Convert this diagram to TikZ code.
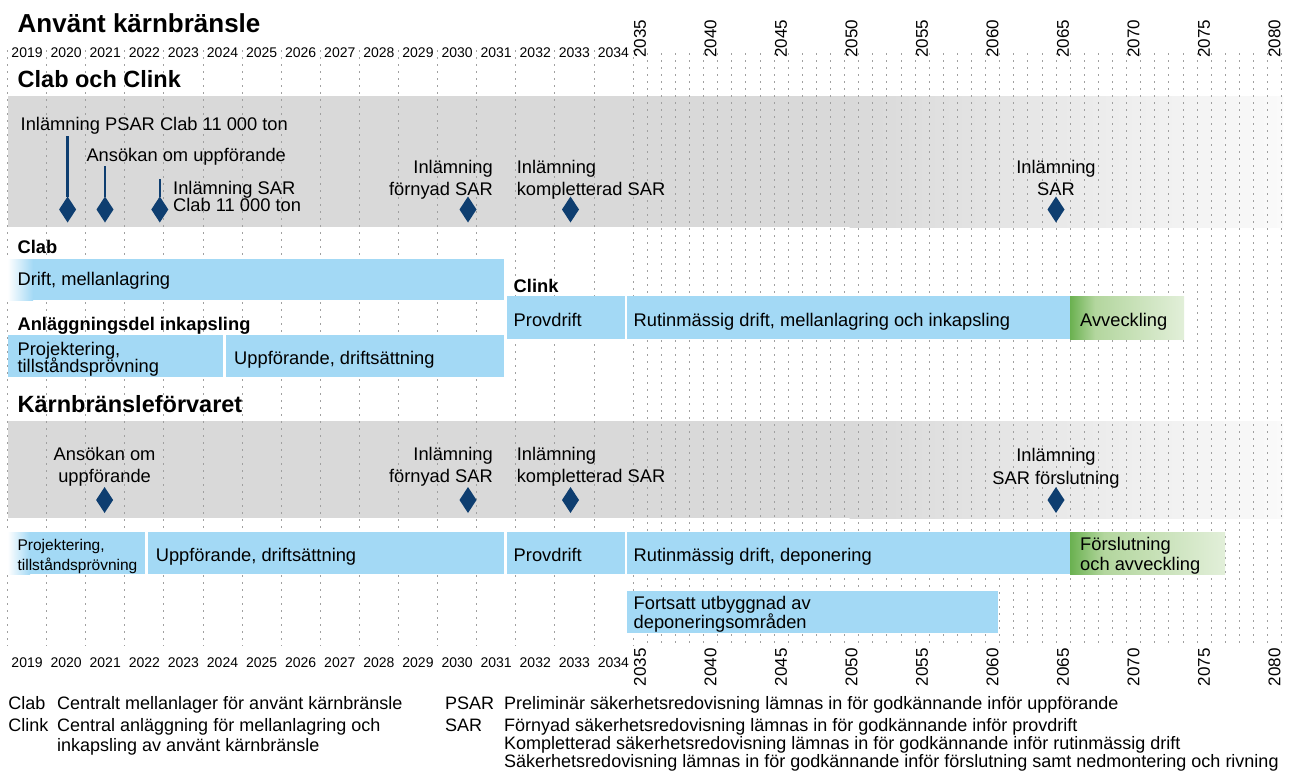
\documentclass[tikz,border=0pt]{standalone}
\usepackage{fontspec}
\setmainfont{Liberation Sans}
\usetikzlibrary{shapes.geometric}
\definecolor{bandgray}{HTML}{D9D9D9}
\definecolor{bandend}{HTML}{FAFAFA}
\definecolor{barblue}{HTML}{A3D9F5}
\definecolor{msblue}{HTML}{0E3E70}
\definecolor{gdark}{HTML}{6AB150}
\definecolor{gmid}{HTML}{B3D69E}
\definecolor{glight}{HTML}{E2EFD9}
\definecolor{gridgray}{HTML}{A0A0A0}
\pgfdeclarehorizontalshading{greenfade}{100bp}{color(0bp)=(gdark); color(25bp)=(gdark); color(36bp)=(gmid); color(75bp)=(glight); color(100bp)=(glight)}
\begin{document}
\begin{tikzpicture}[x=1pt,y=-1pt,
  lbl/.style={inner sep=0pt, anchor=base west, font=\fontsize{18.3}{20}\selectfont},
  lble/.style={lbl, anchor=base east},
  lblc/.style={lbl, anchor=base},
  small/.style={lbl, font=\fontsize{15.5}{17}\selectfont},
  leg/.style={lbl, font=\fontsize{18}{20}\selectfont},
  head/.style={inner sep=0pt, anchor=base west, font=\fontsize{23.5}{26}\selectfont\bfseries},
  title/.style={head, font=\fontsize{26}{28}\selectfont\bfseries},
  sub/.style={inner sep=0pt, anchor=base west, font=\fontsize{18.3}{20}\selectfont\bfseries},
  yr/.style={inner sep=0pt, anchor=base, font=\fontsize{14}{16}\selectfont},
  yrrot/.style={inner sep=0pt, rotate=90, font=\fontsize{17}{19}\selectfont},
  grid/.style={draw=gridgray, line width=0.8pt, dash pattern=on 2pt off 5pt},
  bar/.style={fill=barblue},
  ms/.style={diamond, fill=msblue, minimum width=17pt, minimum height=26pt, inner sep=0pt, outer sep=0pt},
  stem/.style={draw=msblue, line width=2.3pt}]
\useasboundingbox (0,0) rectangle (1302,774);
\fill[white] (0,0) rectangle (1302,774);
% bands
\fill[bandgray] (7.5,96) rectangle (850,227);
\shade[left color=bandgray, right color=bandend] (849.5,96) rectangle (1283,227);
\fill[bandgray] (7.5,421) rectangle (850,518);
\shade[left color=bandgray, right color=bandend] (849.5,421) rectangle (1283,518);
% grid
\foreach \k in {0,...,16} { \draw[grid] ({7.5+39.094*\k},50) -- ({7.5+39.094*\k},646); }
\foreach \j in {1,...,46} { \draw[grid] ({633+14.1*\j},53) -- ({633+14.1*\j},646); }
% year labels
\foreach \k in {0,...,15} {
  \pgfmathtruncatemacro\yy{2019+\k}
  \node[yr] (yt\k) at ({7.5+39.094*(\k+0.5)},57) {\yy};
  \node[yr] (yb\k) at ({7.5+39.094*(\k+0.5)},667) {\yy};
}
\foreach \j in {0,5,...,45} {
  \pgfmathtruncatemacro\yy{2035+\j}
  \node[yrrot, anchor=west] (rt\j) at ({633+14.1*\j+7.05},58) {\yy};
  \node[yrrot, anchor=east] (rb\j) at ({633+14.1*\j+7.05},648) {\yy};
}
% bars
\shade[left color=white, right color=barblue] (7.5,259) rectangle (33,300);
\fill[bar] (32.5,259) rectangle (504,300);
\fill[bar] (507,296) rectangle (624.5,339);
\fill[bar] (627,296) rectangle (1070,339);
\shade[shading=greenfade] (1070,296) rectangle (1184,339);
\fill[bar] (7.5,335) rectangle (223,377);
\fill[bar] (226,335) rectangle (504,377);
\shade[left color=white, right color=barblue] (7.5,532) rectangle (30,574);
\fill[bar] (29.5,532) rectangle (145,574);
\fill[bar] (148,532) rectangle (504,574);
\fill[bar] (507,532) rectangle (624.5,574);
\fill[bar] (627,532) rectangle (1070,574);
\shade[shading=greenfade] (1070,532) rectangle (1225,574);
\fill[bar] (627,591) rectangle (998,633);
% headings
\node[title] (ttl) at (17.5,32) {Använt kärnbränsle};
\node[head] (h1) at (17.5,87.5) {Clab och Clink};
\node[head] (h2) at (17.5,412.5) {Kärnbränsleförvaret};
% band 1 milestones
\node[lbl] (t1) at (20.5,130.7) {Inlämning PSAR Clab 11 000 ton};
\node[lbl] (t2) at (86.3,161.7) {Ansökan om uppförande};
\node[lbl] (t3a) at (173,194) {Inlämning SAR};
\node[lbl] (t3b) at (173,211.7) {Clab 11 000 ton};
\node[lble] (t4a) at (493,173.3) {Inlämning};
\node[lble] (t4b) at (493,195) {förnyad SAR};
\node[lbl] (t5a) at (516.6,173.3) {Inlämning};
\node[lbl] (t5b) at (516.6,195) {kompletterad SAR};
\node[lblc] (t6a) at (1056,173.3) {Inlämning};
\node[lblc] (t6b) at (1056,195) {SAR};
\coordinate (s1) at (67.6,136);
\coordinate (s2) at (105,166);
\coordinate (s3) at (159.8,179.3);
\node[ms] (d1) at (67.6,209.5) {};
\node[ms] (d2) at (105,209.5) {};
\node[ms] (d3) at (159.8,209.5) {};
\node[ms] (d4) at (468,209.5) {};
\node[ms] (d5) at (570.5,209.5) {};
\node[ms] (d6) at (1056,209.5) {};
\draw[stem] (s1) -- (d1.north);
\draw[stem] (s2) -- (d2.north);
\draw[stem] (s3) -- (d3.north);
% band 2 milestones
\node[lblc] (u1a) at (104.6,460) {Ansökan om};
\node[lblc] (u1b) at (104.6,482.5) {uppförande};
\node[lble] (u2a) at (493,460) {Inlämning};
\node[lble] (u2b) at (493,482.5) {förnyad SAR};
\node[lbl] (u3a) at (516.6,460) {Inlämning};
\node[lbl] (u3b) at (516.6,482.5) {kompletterad SAR};
\node[lblc] (u4a) at (1056,461.5) {Inlämning};
\node[lblc] (u4b) at (1056,484) {SAR förslutning};
\node[ms] (e1) at (104.6,500) {};
\node[ms] (e2) at (468,500) {};
\node[ms] (e3) at (570.5,500) {};
\node[ms] (e4) at (1056,500) {};
% bar labels
\node[sub] (lclab) at (17.5,253.3) {Clab};
\node[lbl] (b1) at (17.4,285) {Drift, mellanlagring};
\node[sub] (lclink) at (513.5,292.7) {Clink};
\node[lbl] (b2) at (513.5,326) {Provdrift};
\node[lbl] (b3) at (633.5,326) {Rutinmässig drift, mellanlagring och inkapsling};
\node[lbl] (b4) at (1080,326) {Avveckling};
\node[sub] (lank) at (17.4,330) {Anläggningsdel inkapsling};
\node[lbl] (b5a) at (17.4,355.5) {Projektering,};
\node[lbl] (b5b) at (17.4,372) {tillståndsprövning};
\node[lbl] (b6) at (234,364) {Uppförande, driftsättning};
\node[small] (c1a) at (17.4,550) {Projektering,};
\node[small] (c1b) at (17.4,570.5) {tillståndsprövning};
\node[lbl] (c2) at (155.6,561.7) {Uppförande, driftsättning};
\node[lbl] (c3) at (513.5,561.7) {Provdrift};
\node[lbl] (c4) at (633.5,561.7) {Rutinmässig drift, deponering};
\node[lbl] (c5a) at (1080,550) {Förslutning};
\node[lbl] (c5b) at (1080,570) {och avveckling};
\node[lbl] (c6a) at (633.5,609.3) {Fortsatt utbyggnad av};
\node[lbl] (c6b) at (633.5,628) {deponeringsområden};
% legend
\node[leg] (gl1) at (8.3,709) {Clab};
\node[leg] (gl1d) at (57,709) {Centralt mellanlager för använt kärnbränsle};
\node[leg] (gl2) at (8.3,731) {Clink};
\node[leg] (gl2d) at (57,731) {Central anläggning för mellanlagring och};
\node[leg] (gl2e) at (57,751) {inkapsling av använt kärnbränsle};
\node[leg] (gr1) at (445,709) {PSAR};
\node[leg] (gr1d) at (504,709) {Preliminär säkerhetsredovisning lämnas in för godkännande inför uppförande};
\node[leg] (gr2) at (445,731) {SAR};
\node[leg] (gr2d) at (504,731) {Förnyad säkerhetsredovisning lämnas in för godkännande inför provdrift};
\node[leg] (gr2e) at (504,749) {Kompletterad säkerhetsredovisning lämnas in för godkännande inför rutinmässig drift};
\node[leg] (gr2f) at (504,767) {Säkerhetsredovisning lämnas in för godkännande inför förslutning samt nedmontering och rivning};
\end{tikzpicture}
\end{document}
